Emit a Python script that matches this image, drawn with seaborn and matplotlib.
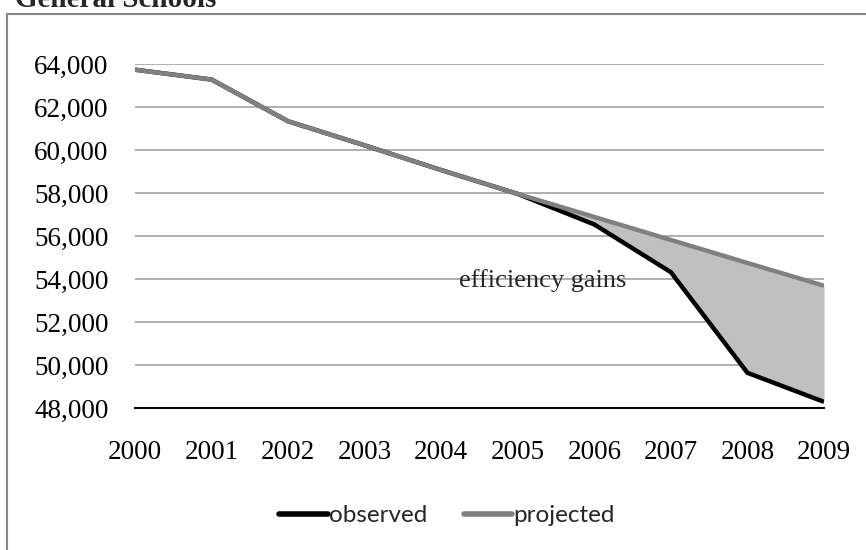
import matplotlib
matplotlib.use("Agg")
import matplotlib.pyplot as plt
from matplotlib.patches import Rectangle
from matplotlib.ticker import FuncFormatter
import numpy as np
import pandas as pd
import seaborn as sns

# Teaching staff in general schools, observed vs projected
years = [2000, 2001, 2002, 2003, 2004, 2005, 2006, 2007, 2008, 2009]
observed = [63750, 63290, 61350, 60230, 59080, 57970, 56550, 54330, 49650, 48300]
projected = [63750, 63290, 61350, 60230, 59080, 57970, 56900, 55830, 54760, 53700]
series_names = ["observed", "projected"]
y_ticks = [48000, 50000, 52000, 54000, 56000, 58000, 60000, 62000, 64000]

sns.set_style("white")
serif = ["Liberation Serif", "DejaVu Serif"]
plt.rcParams["font.family"] = serif

df = pd.DataFrame({
    "year": years * 2,
    "teachers": observed + projected,
    "series": [series_names[0]] * len(years) + [series_names[1]] * len(years),
})

fig = plt.figure(figsize=(8.66, 5.5), dpi=100)
ax = fig.add_axes([135 / 866, 1 - 408.3 / 550, (824 - 135) / 866, (408.3 - 64.3) / 550])

# shaded gap between projection and observation from 2005 on
yr = np.array(years)
obs = np.array(observed)
proj = np.array(projected)
mask = yr >= 2005
ax.fill_between(yr[mask], obs[mask], proj[mask], color="#c0c0c0", linewidth=0, zorder=1)

sns.lineplot(data=df, x="year", y="teachers", hue="series",
             palette={"observed": "#000000", "projected": "#808080"},
             linewidth=3.2, ax=ax, legend=True, zorder=3)
for line in ax.get_lines():
    line.set_solid_capstyle("butt")
    line.set_solid_joinstyle("miter")

ax.set_xlim(2000, 2009)
ax.set_ylim(48000, 64000)
ax.set_yticks(y_ticks)
ax.set_xticks(years)
ax.yaxis.set_major_formatter(FuncFormatter(lambda v, p: f"{int(v):,}"))
ax.grid(axis="y", color="#9a9a9a", linewidth=1.1, zorder=0)
ax.set_axisbelow(True)
for side in ["top", "right", "left"]:
    ax.spines[side].set_visible(False)
ax.spines["bottom"].set_color("#000000")
ax.spines["bottom"].set_linewidth(1.4)
ax.tick_params(axis="both", length=0, labelsize=19.5, colors="#000000")
ax.tick_params(axis="y", pad=19)
ax.tick_params(axis="x", pad=22.5)
ax.set_xlabel("")
ax.set_ylabel("")

ax.text(2004.23, 53960, "efficiency gains", fontsize=19, va="center", ha="left",
        family=serif, zorder=4)

handles, labels = ax.get_legend_handles_labels()
for h in handles:
    h.set_linewidth(4)
    h.set_solid_capstyle("round")
ax.legend(handles, labels, loc="center", bbox_to_anchor=(0.516, 0.062),
          bbox_transform=fig.transFigure, ncol=2, frameon=False,
          prop={"family": ["Lato", "DejaVu Sans"], "size": 17.5},
          handlelength=2.0, handletextpad=0.05, columnspacing=1.5)

# chart frame and title
fig.patches.append(Rectangle((7.5 / 866, -0.1), 1.2, 1 - 13.5 / 550 + 0.1,
                             transform=fig.transFigure, fill=False,
                             edgecolor="#868686", linewidth=1.5, zorder=0))
fig.text(15 / 866, 1 - 7 / 550, "General Schools", fontsize=21, fontweight="bold",
         family=serif, ha="left", va="baseline")

fig.savefig("out.png", dpi=100)
